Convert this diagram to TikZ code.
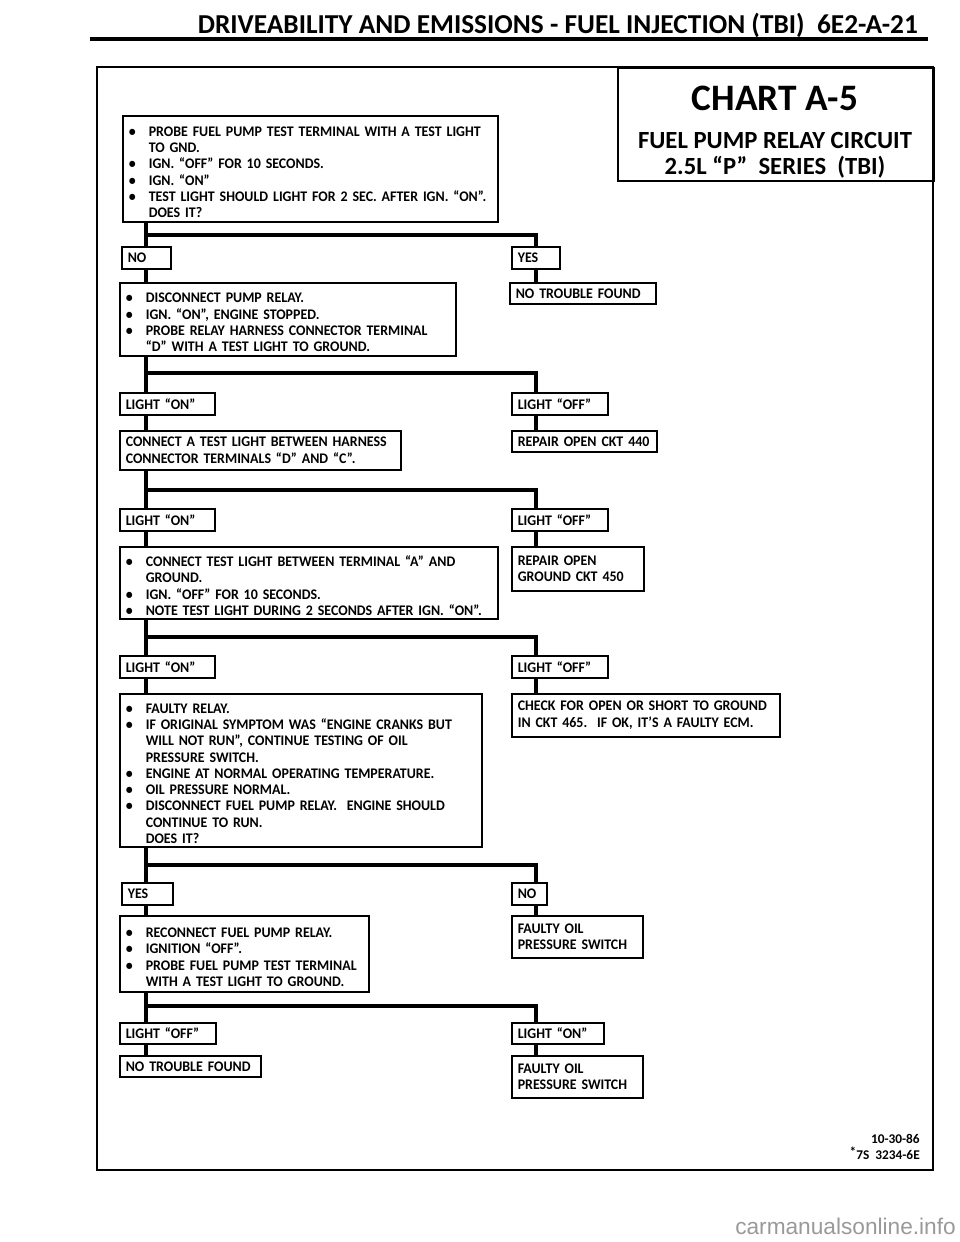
\documentclass[tikz,border=0pt]{standalone}
\usepackage{fontspec}
\setmainfont{Carlito}
\newfontfamily\bodyfont{Carlito}[FakeStretch=0.95, WordSpace=0.8]
\newfontfamily\wmfont{Liberation Sans}
\newlength\bxw \newlength\bxh \newlength\bxt
\newcommand\bitem{\par\noindent\hangindent=15pt\hangafter=1\makebox[15pt][l]{\textbullet}\ignorespaces}
\newcommand\nl{\newline}
\tikzset{
  boxs/.style={draw, line width=1.2pt, anchor=north west, inner xsep=4.5pt, inner ysep=0pt,
    align=left, font=\bodyfont\bfseries\fontsize{11}{12.2}\selectfont},
  conn/.style={line width=3.4pt},
  ttl/.style={anchor=base, inner sep=0pt},
}
\newcommand\bx[6]{%
  \pgfmathsetlength\bxw{0.75pt*#4}%
  \pgfmathsetlength\bxh{0.75pt*#5}%
  \pgfmathsetlength\bxt{0.75pt*#4-9pt}%
  \node[boxs, minimum width=\bxw, minimum height=\bxh, text width=\bxt] (#1) at (#2,#3) {#6\par};}
\begin{document}
\begin{tikzpicture}[x=0.75pt, y=-0.75pt]
\useasboundingbox (0,0) rectangle (960,1242);
% header
\node[anchor=base east, font=\bfseries\fontsize{20.5}{22}\selectfont, inner sep=0pt] (hdr) at (918,33) {DRIVEABILITY AND EMISSIONS - FUEL INJECTION (TBI)\ \ 6E2-A-21};
\draw[line width=2.4pt] (90,39) -- (928,39);
% frame
\draw[line width=2.2pt] (97,67) rectangle (933,1170);
\node[draw, line width=1.6pt, anchor=north west, minimum width=237pt, minimum height=85pt, inner sep=0pt] (tbox) at (617,67) {};
\node[ttl, font=\bfseries\fontsize{28}{30}\selectfont] (chart) at (775,110) {CHART A-5};
\node[ttl, font=\bfseries\fontsize{18.5}{20}\selectfont] (t2) at (775,148) {FUEL PUMP RELAY CIRCUIT};
\node[ttl, font=\bfseries\fontsize{18.5}{20}\selectfont] (t3) at (775,174) {2.5L “P”\ \ SERIES\ \ (TBI)};
% trunks
\coordinate (L) at (146,0);
\coordinate (R) at (536,0);
% row 1
\bx{b1}{122}{115}{375}{106}{\bitem PROBE FUEL PUMP TEST TERMINAL WITH A TEST LIGHT\nl TO GND.
\bitem IGN. “OFF” FOR 10 SECONDS.
\bitem IGN. “ON”
\bitem TEST LIGHT SHOULD LIGHT FOR 2 SEC. AFTER IGN. “ON”.\nl DOES IT?}
\coordinate (j1) at (146,235);
\bx{no1}{121}{246}{49}{22}{NO}
\bx{yes1}{511}{246}{48}{22}{YES}
\bx{b2}{119}{282}{336}{73}{\bitem DISCONNECT PUMP RELAY.
\bitem IGN. “ON”, ENGINE STOPPED.
\bitem PROBE RELAY HARNESS CONNECTOR TERMINAL\nl “D” WITH A TEST LIGHT TO GROUND.}
\bx{ntf1}{509}{282}{146}{21}{NO TROUBLE FOUND}
\draw[conn] (b1.south -| L) -- (no1.north -| L);
\draw[conn] (j1) -| (yes1.north -| R);
\draw[conn] (no1.south -| L) -- (b2.north -| L);
\draw[conn] (yes1.south -| R) -- (ntf1.north -| R);
% row 2
\coordinate (j2) at (146,373);
\bx{on1}{119}{392}{95}{22}{LIGHT “ON”}
\bx{off1}{511}{392}{96}{22}{LIGHT “OFF”}
\bx{b3}{119}{430}{281}{39}{CONNECT A TEST LIGHT BETWEEN HARNESS\nl CONNECTOR TERMINALS “D” AND “C”.}
\bx{r440}{511}{430}{145}{21}{REPAIR OPEN CKT 440}
\draw[conn] (b2.south -| L) -- (on1.north -| L);
\draw[conn] (j2) -| (off1.north -| R);
\draw[conn] (on1.south -| L) -- (b3.north -| L);
\draw[conn] (off1.south -| R) -- (r440.north -| R);
% row 3
\coordinate (j3) at (146,490);
\bx{on2}{119}{508}{95}{22}{LIGHT “ON”}
\bx{off2}{511}{508}{96}{22}{LIGHT “OFF”}
\bx{b4}{119}{546}{378}{72}{\bitem CONNECT TEST LIGHT BETWEEN TERMINAL “A” AND\nl GROUND.
\bitem IGN. “OFF” FOR 10 SECONDS.
\bitem NOTE TEST LIGHT DURING 2 SECONDS AFTER IGN. “ON”.}
\bx{r450}{511}{546}{132}{44}{REPAIR OPEN\nl GROUND CKT 450}
\draw[conn] (b3.south -| L) -- (on2.north -| L);
\draw[conn] (j3) -| (off2.north -| R);
\draw[conn] (on2.south -| L) -- (b4.north -| L);
\draw[conn] (off2.south -| R) -- (r450.north -| R);
% row 4
\coordinate (j4) at (146,637);
\bx{on3}{119}{655}{95}{22}{LIGHT “ON”}
\bx{off3}{511}{655}{96}{22}{LIGHT “OFF”}
\bx{b5}{119}{693}{362}{153}{\bitem FAULTY RELAY.
\bitem IF ORIGINAL SYMPTOM WAS “ENGINE CRANKS BUT\nl WILL NOT RUN”, CONTINUE TESTING OF OIL\nl PRESSURE SWITCH.
\bitem ENGINE AT NORMAL OPERATING TEMPERATURE.
\bitem OIL PRESSURE NORMAL.
\bitem DISCONNECT FUEL PUMP RELAY.\ \ ENGINE SHOULD\nl CONTINUE TO RUN.\nl DOES IT?}
\bx{chk}{511}{693}{268}{43}{CHECK FOR OPEN OR SHORT TO GROUND\nl IN CKT 465.\ \ IF OK, IT’S A FAULTY ECM.}
\draw[conn] (b4.south -| L) -- (on3.north -| L);
\draw[conn] (j4) -| (off3.north -| R);
\draw[conn] (on3.south -| L) -- (b5.north -| L);
\draw[conn] (off3.south -| R) -- (chk.north -| R);
% row 5
\coordinate (j5) at (146,865);
\bx{yes2}{121}{882}{51}{22}{YES}
\bx{no2}{511}{882}{35}{22}{NO}
\bx{b6}{119}{915}{249}{76}{\bitem RECONNECT FUEL PUMP RELAY.
\bitem IGNITION “OFF”.
\bitem PROBE FUEL PUMP TEST TERMINAL\nl WITH A TEST LIGHT TO GROUND.}
\bx{fop1}{511}{915}{131}{42}{FAULTY OIL\nl PRESSURE SWITCH}
\draw[conn] (b5.south -| L) -- (yes2.north -| L);
\draw[conn] (j5) -| (no2.north -| R);
\draw[conn] (yes2.south -| L) -- (b6.north -| L);
\draw[conn] (no2.south -| R) -- (fop1.north -| R);
% row 6
\coordinate (j6) at (146,1006);
\bx{off4}{119}{1022}{96}{21}{LIGHT “OFF”}
\bx{on4}{511}{1022}{92}{21}{LIGHT “ON”}
\bx{ntf2}{119}{1055}{141}{21}{NO TROUBLE FOUND}
\bx{fop2}{511}{1055}{131}{42}{FAULTY OIL\nl PRESSURE SWITCH}
\draw[conn] (b6.south -| L) -- (off4.north -| L);
\draw[conn] (j6) -| (on4.north -| R);
\draw[conn] (off4.south -| L) -- (ntf2.north -| L);
\draw[conn] (on4.south -| R) -- (fop2.north -| R);
% footer
\node[anchor=base east, font=\bfseries\fontsize{10}{11}\selectfont, inner sep=0pt] (date) at (920,1143) {10-30-86};
\node[anchor=base east, font=\bfseries\fontsize{10}{11}\selectfont, inner sep=0pt] (code) at (920,1159) {\raisebox{2pt}{*}7S\ \ 3234-6E};
\node[anchor=base west, font=\wmfont\fontsize{17}{20}\selectfont, text=black!40, inner sep=0pt] (wm) at (735,1234) {carmanualsonline.info};
\end{tikzpicture}
\end{document}
